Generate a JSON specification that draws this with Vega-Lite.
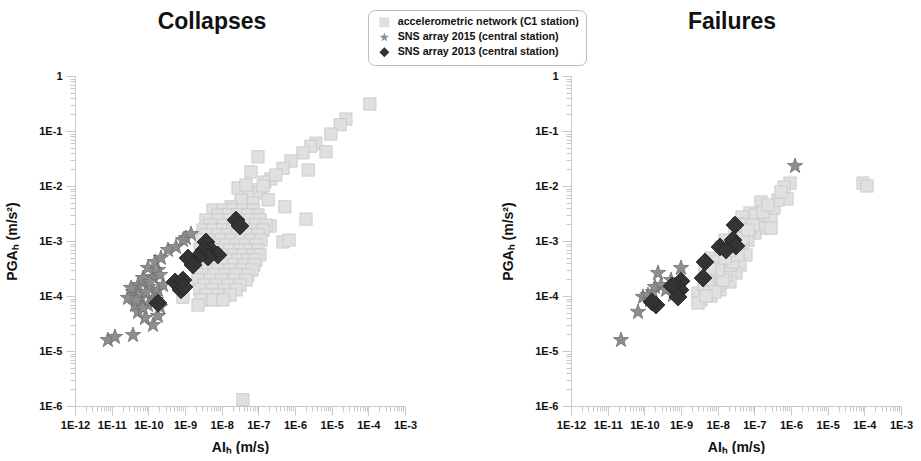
{
  "$schema": "https://vega.github.io/schema/vega-lite/v6.json",
  "padding": {"left": 5, "top": 9, "right": 0, "bottom": 0},
  "config": {
    "view": {"stroke": null},
    "font": "Liberation Sans",
    "axis": {"grid": false, "domainColor": "#c8c8c8", "tickColor": "#c8c8c8", "labelFont": "Liberation Sans", "labelFontWeight": "bold", "labelFontSize": 11, "labelColor": "#111111", "titleFont": "Liberation Sans", "titleFontWeight": "bold", "titleFontSize": 14, "titleColor": "#111111"},
    "title": {"font": "Liberation Sans", "fontSize": 23, "fontWeight": "bold", "color": "#111111"},
    "legend": {"orient": "none", "legendX": 293, "legendY": -66, "strokeColor": "#bbbbbb", "cornerRadius": 7, "padding": 7, "labelFont": "Liberation Sans", "labelFontSize": 10.7, "labelFontWeight": "bold", "labelColor": "#111111", "labelLimit": 400, "labelOffset": 8, "symbolOffset": 4, "symbolSize": 100, "rowPadding": 3, "symbolOpacity": 1, "symbolStrokeWidth": 0}
  },
  "spacing": 84,
  "datasets": {
    "pts": [
      {"panel":"Collapses","series":"acc","ai":1.1e-4,"pga":0.31},
      {"panel":"Collapses","series":"acc","ai":2.45e-5,"pga":0.165},
      {"panel":"Collapses","series":"acc","ai":1.7e-5,"pga":0.13},
      {"panel":"Collapses","series":"acc","ai":9.5e-6,"pga":0.088},
      {"panel":"Collapses","series":"acc","ai":3.7e-6,"pga":0.060},
      {"panel":"Collapses","series":"acc","ai":2.7e-6,"pga":0.053},
      {"panel":"Collapses","series":"acc","ai":7e-6,"pga":0.042},
      {"panel":"Collapses","series":"acc","ai":1.65e-6,"pga":0.040},
      {"panel":"Collapses","series":"acc","ai":7.8e-7,"pga":0.0285},
      {"panel":"Collapses","series":"acc","ai":4.7e-7,"pga":0.021},
      {"panel":"Collapses","series":"acc","ai":2.3e-6,"pga":0.0195},
      {"panel":"Collapses","series":"acc","ai":9.8e-8,"pga":0.034},
      {"panel":"Collapses","series":"acc","ai":6.3e-8,"pga":0.018},
      {"panel":"Collapses","series":"acc","ai":2.2e-7,"pga":0.0134},
      {"panel":"Collapses","series":"acc","ai":1.5e-7,"pga":0.0118},
      {"panel":"Collapses","series":"acc","ai":3.0e-7,"pga":0.0158},
      {"panel":"Collapses","series":"acc","ai":8.6e-8,"pga":0.0085},
      {"panel":"Collapses","series":"acc","ai":5.3e-7,"pga":0.0042},
      {"panel":"Collapses","series":"acc","ai":2.0e-6,"pga":0.0025},
      {"panel":"Collapses","series":"acc","ai":5.2e-8,"pga":0.0063},
      {"panel":"Collapses","series":"acc","ai":1.1e-7,"pga":0.0075},
      {"panel":"Collapses","series":"acc","ai":1.85e-7,"pga":0.0056},
      {"panel":"Collapses","series":"acc","ai":7.1e-8,"pga":0.0049},
      {"panel":"Collapses","series":"acc","ai":3.4e-8,"pga":0.0056},
      {"panel":"Collapses","series":"acc","ai":1.8e-8,"pga":0.0042},
      {"panel":"Collapses","series":"acc","ai":1.1e-8,"pga":0.0032},
      {"panel":"Collapses","series":"acc","ai":6.6e-9,"pga":0.0024},
      {"panel":"Collapses","series":"acc","ai":2.1e-7,"pga":0.00187},
      {"panel":"Collapses","series":"acc","ai":4.7e-7,"pga":0.00096},
      {"panel":"Collapses","series":"acc","ai":6.9e-7,"pga":0.00104},
      {"panel":"Collapses","series":"acc","ai":3.8e-8,"pga":1.3e-6},
      {"panel":"Collapses","series":"acc","ai":2.8e-8,"pga":0.0092},
      {"panel":"Collapses","series":"acc","ai":4.6e-8,"pga":0.0104},
      {"panel":"Collapses","series":"acc","ai":1.35e-7,"pga":0.010},
      {"panel":"Collapses","series":"acc","ai":5.8e-9,"pga":3.66e-3},
      {"panel":"Collapses","series":"acc","ai":1.09e-8,"pga":3.66e-3},
      {"panel":"Collapses","series":"acc","ai":2.04e-8,"pga":3.66e-3},
      {"panel":"Collapses","series":"acc","ai":3.81e-8,"pga":3.66e-3},
      {"panel":"Collapses","series":"acc","ai":7.15e-8,"pga":3.66e-3},
      {"panel":"Collapses","series":"acc","ai":7.9e-9,"pga":2.97e-3},
      {"panel":"Collapses","series":"acc","ai":1.49e-8,"pga":2.97e-3},
      {"panel":"Collapses","series":"acc","ai":2.79e-8,"pga":2.97e-3},
      {"panel":"Collapses","series":"acc","ai":5.22e-8,"pga":2.97e-3},
      {"panel":"Collapses","series":"acc","ai":9.8e-8,"pga":2.97e-3},
      {"panel":"Collapses","series":"acc","ai":3.73e-9,"pga":2.41e-3},
      {"panel":"Collapses","series":"acc","ai":7.9e-9,"pga":2.41e-3},
      {"panel":"Collapses","series":"acc","ai":1.69e-8,"pga":2.41e-3},
      {"panel":"Collapses","series":"acc","ai":3.16e-8,"pga":2.41e-3},
      {"panel":"Collapses","series":"acc","ai":5.92e-8,"pga":2.41e-3},
      {"panel":"Collapses","series":"acc","ai":1.11e-7,"pga":2.41e-3},
      {"panel":"Collapses","series":"acc","ai":4.81e-9,"pga":1.95e-3},
      {"panel":"Collapses","series":"acc","ai":1.16e-8,"pga":1.95e-3},
      {"panel":"Collapses","series":"acc","ai":2.46e-8,"pga":1.95e-3},
      {"panel":"Collapses","series":"acc","ai":4.6e-8,"pga":1.95e-3},
      {"panel":"Collapses","series":"acc","ai":8.6e-8,"pga":1.95e-3},
      {"panel":"Collapses","series":"acc","ai":1.62e-7,"pga":1.95e-3},
      {"panel":"Collapses","series":"acc","ai":3.09e-9,"pga":1.58e-3},
      {"panel":"Collapses","series":"acc","ai":5.8e-9,"pga":1.58e-3},
      {"panel":"Collapses","series":"acc","ai":1.09e-8,"pga":1.58e-3},
      {"panel":"Collapses","series":"acc","ai":2.04e-8,"pga":1.58e-3},
      {"panel":"Collapses","series":"acc","ai":3.81e-8,"pga":1.58e-3},
      {"panel":"Collapses","series":"acc","ai":7.15e-8,"pga":1.58e-3},
      {"panel":"Collapses","series":"acc","ai":1.34e-7,"pga":1.58e-3},
      {"panel":"Collapses","series":"acc","ai":3.73e-9,"pga":1.29e-3},
      {"panel":"Collapses","series":"acc","ai":7.9e-9,"pga":1.29e-3},
      {"panel":"Collapses","series":"acc","ai":1.49e-8,"pga":1.29e-3},
      {"panel":"Collapses","series":"acc","ai":2.79e-8,"pga":1.29e-3},
      {"panel":"Collapses","series":"acc","ai":5.22e-8,"pga":1.29e-3},
      {"panel":"Collapses","series":"acc","ai":9.8e-8,"pga":1.29e-3},
      {"panel":"Collapses","series":"acc","ai":2.73e-9,"pga":1.04e-3},
      {"panel":"Collapses","series":"acc","ai":5.12e-9,"pga":1.04e-3},
      {"panel":"Collapses","series":"acc","ai":9.6e-9,"pga":1.04e-3},
      {"panel":"Collapses","series":"acc","ai":1.8e-8,"pga":1.04e-3},
      {"panel":"Collapses","series":"acc","ai":3.37e-8,"pga":1.04e-3},
      {"panel":"Collapses","series":"acc","ai":6.3e-8,"pga":1.04e-3},
      {"panel":"Collapses","series":"acc","ai":1.18e-7,"pga":1.04e-3},
      {"panel":"Collapses","series":"acc","ai":3.51e-9,"pga":8.46e-4},
      {"panel":"Collapses","series":"acc","ai":7.0e-9,"pga":8.46e-4},
      {"panel":"Collapses","series":"acc","ai":1.31e-8,"pga":8.46e-4},
      {"panel":"Collapses","series":"acc","ai":2.46e-8,"pga":8.46e-4},
      {"panel":"Collapses","series":"acc","ai":4.6e-8,"pga":8.46e-4},
      {"panel":"Collapses","series":"acc","ai":8.6e-8,"pga":8.46e-4},
      {"panel":"Collapses","series":"acc","ai":2.56e-9,"pga":6.86e-4},
      {"panel":"Collapses","series":"acc","ai":4.81e-9,"pga":6.86e-4},
      {"panel":"Collapses","series":"acc","ai":9.0e-9,"pga":6.86e-4},
      {"panel":"Collapses","series":"acc","ai":1.69e-8,"pga":6.86e-4},
      {"panel":"Collapses","series":"acc","ai":3.16e-8,"pga":6.86e-4},
      {"panel":"Collapses","series":"acc","ai":5.92e-8,"pga":6.86e-4},
      {"panel":"Collapses","series":"acc","ai":9.8e-8,"pga":6.86e-4},
      {"panel":"Collapses","series":"acc","ai":3.09e-9,"pga":5.56e-4},
      {"panel":"Collapses","series":"acc","ai":5.8e-9,"pga":5.56e-4},
      {"panel":"Collapses","series":"acc","ai":1.09e-8,"pga":5.56e-4},
      {"panel":"Collapses","series":"acc","ai":2.04e-8,"pga":5.56e-4},
      {"panel":"Collapses","series":"acc","ai":3.81e-8,"pga":5.56e-4},
      {"panel":"Collapses","series":"acc","ai":7.15e-8,"pga":5.56e-4},
      {"panel":"Collapses","series":"acc","ai":1.11e-7,"pga":5.56e-4},
      {"panel":"Collapses","series":"acc","ai":2.26e-9,"pga":4.52e-4},
      {"panel":"Collapses","series":"acc","ai":4.24e-9,"pga":4.52e-4},
      {"panel":"Collapses","series":"acc","ai":7.9e-9,"pga":4.52e-4},
      {"panel":"Collapses","series":"acc","ai":1.49e-8,"pga":4.52e-4},
      {"panel":"Collapses","series":"acc","ai":2.79e-8,"pga":4.52e-4},
      {"panel":"Collapses","series":"acc","ai":5.22e-8,"pga":4.52e-4},
      {"panel":"Collapses","series":"acc","ai":8.6e-8,"pga":4.52e-4},
      {"panel":"Collapses","series":"acc","ai":3.09e-9,"pga":3.66e-4},
      {"panel":"Collapses","series":"acc","ai":5.8e-9,"pga":3.66e-4},
      {"panel":"Collapses","series":"acc","ai":1.09e-8,"pga":3.66e-4},
      {"panel":"Collapses","series":"acc","ai":2.17e-8,"pga":3.66e-4},
      {"panel":"Collapses","series":"acc","ai":4.06e-8,"pga":3.66e-4},
      {"panel":"Collapses","series":"acc","ai":7.6e-8,"pga":3.66e-4},
      {"panel":"Collapses","series":"acc","ai":2.26e-9,"pga":2.97e-4},
      {"panel":"Collapses","series":"acc","ai":4.24e-9,"pga":2.97e-4},
      {"panel":"Collapses","series":"acc","ai":7.9e-9,"pga":2.97e-4},
      {"panel":"Collapses","series":"acc","ai":1.69e-8,"pga":2.97e-4},
      {"panel":"Collapses","series":"acc","ai":3.58e-8,"pga":2.97e-4},
      {"panel":"Collapses","series":"acc","ai":6.7e-8,"pga":2.97e-4},
      {"panel":"Collapses","series":"acc","ai":3.09e-9,"pga":2.41e-4},
      {"panel":"Collapses","series":"acc","ai":6.18e-9,"pga":2.41e-4},
      {"panel":"Collapses","series":"acc","ai":1.23e-8,"pga":2.41e-4},
      {"panel":"Collapses","series":"acc","ai":2.46e-8,"pga":2.41e-4},
      {"panel":"Collapses","series":"acc","ai":5.22e-8,"pga":2.41e-4},
      {"panel":"Collapses","series":"acc","ai":2.26e-9,"pga":1.95e-4},
      {"panel":"Collapses","series":"acc","ai":4.81e-9,"pga":1.95e-4},
      {"panel":"Collapses","series":"acc","ai":1.02e-8,"pga":1.95e-4},
      {"panel":"Collapses","series":"acc","ai":2.17e-8,"pga":1.95e-4},
      {"panel":"Collapses","series":"acc","ai":4.6e-8,"pga":1.95e-4},
      {"panel":"Collapses","series":"acc","ai":3.3e-9,"pga":1.58e-4},
      {"panel":"Collapses","series":"acc","ai":7.0e-9,"pga":1.58e-4},
      {"panel":"Collapses","series":"acc","ai":1.49e-8,"pga":1.58e-4},
      {"panel":"Collapses","series":"acc","ai":3.16e-8,"pga":1.58e-4},
      {"panel":"Collapses","series":"acc","ai":2.56e-9,"pga":1.29e-4},
      {"panel":"Collapses","series":"acc","ai":5.45e-9,"pga":1.29e-4},
      {"panel":"Collapses","series":"acc","ai":1.16e-8,"pga":1.29e-4},
      {"panel":"Collapses","series":"acc","ai":2.46e-8,"pga":1.29e-4},
      {"panel":"Collapses","series":"acc","ai":3.73e-9,"pga":1.04e-4},
      {"panel":"Collapses","series":"acc","ai":7.9e-9,"pga":1.04e-4},
      {"panel":"Collapses","series":"acc","ai":1.69e-8,"pga":1.04e-4},
      {"panel":"Collapses","series":"acc","ai":2.73e-9,"pga":8.46e-5},
      {"panel":"Collapses","series":"acc","ai":5.8e-9,"pga":8.46e-5},
      {"panel":"Collapses","series":"acc","ai":1.09e-8,"pga":8.46e-5},
      {"panel":"Collapses","series":"acc","ai":2.26e-9,"pga":6.86e-5},
      {"panel":"Collapses","series":"acc","ai":8.8e-10,"pga":9.5e-5},
      {"panel":"Collapses","series":"sns2015","ai":7.9e-12,"pga":1.58e-5},
      {"panel":"Collapses","series":"sns2015","ai":1.23e-11,"pga":1.8e-5},
      {"panel":"Collapses","series":"sns2015","ai":3.82e-11,"pga":1.95e-5},
      {"panel":"Collapses","series":"sns2015","ai":1.34e-10,"pga":2.97e-5},
      {"panel":"Collapses","series":"sns2015","ai":1.83e-10,"pga":4.33e-5},
      {"panel":"Collapses","series":"sns2015","ai":8.1e-11,"pga":3.98e-5},
      {"panel":"Collapses","series":"sns2015","ai":5.22e-11,"pga":5.12e-5},
      {"panel":"Collapses","series":"sns2015","ai":2.08e-10,"pga":6.3e-5},
      {"panel":"Collapses","series":"sns2015","ai":9.8e-11,"pga":6.86e-5},
      {"panel":"Collapses","series":"sns2015","ai":4.33e-11,"pga":6.86e-5},
      {"panel":"Collapses","series":"sns2015","ai":6.3e-11,"pga":9.2e-5},
      {"panel":"Collapses","series":"sns2015","ai":1.34e-10,"pga":9.2e-5},
      {"panel":"Collapses","series":"sns2015","ai":1.83e-10,"pga":1.29e-4},
      {"panel":"Collapses","series":"sns2015","ai":3.82e-11,"pga":1.18e-4},
      {"panel":"Collapses","series":"sns2015","ai":5.22e-11,"pga":1.58e-4},
      {"panel":"Collapses","series":"sns2015","ai":9.8e-11,"pga":1.46e-4},
      {"panel":"Collapses","series":"sns2015","ai":7.15e-11,"pga":2.12e-4},
      {"panel":"Collapses","series":"sns2015","ai":1.34e-10,"pga":2.21e-4},
      {"panel":"Collapses","series":"sns2015","ai":1.83e-10,"pga":2.97e-4},
      {"panel":"Collapses","series":"sns2015","ai":9.8e-11,"pga":3.23e-4},
      {"panel":"Collapses","series":"sns2015","ai":1.52e-10,"pga":4.15e-4},
      {"panel":"Collapses","series":"sns2015","ai":2.21e-10,"pga":4.91e-4},
      {"panel":"Collapses","series":"sns2015","ai":5.22e-11,"pga":1.04e-4},
      {"panel":"Collapses","series":"sns2015","ai":8.6e-11,"pga":1.18e-4},
      {"panel":"Collapses","series":"sns2015","ai":1.11e-10,"pga":1.8e-4},
      {"panel":"Collapses","series":"sns2015","ai":2.51e-10,"pga":1.58e-4},
      {"panel":"Collapses","series":"sns2015","ai":1.62e-10,"pga":8.46e-5},
      {"panel":"Collapses","series":"sns2015","ai":3.44e-10,"pga":6.86e-4},
      {"panel":"Collapses","series":"sns2015","ai":5.68e-10,"pga":7.78e-4},
      {"panel":"Collapses","series":"sns2015","ai":1.06e-9,"pga":1.13e-3},
      {"panel":"Collapses","series":"sns2015","ai":1.46e-9,"pga":1.34e-3},
      {"panel":"Collapses","series":"sns2015","ai":8.8e-10,"pga":1.04e-3},
      {"panel":"Collapses","series":"sns2015","ai":2.08e-10,"pga":2.41e-4},
      {"panel":"Collapses","series":"sns2015","ai":4.6e-11,"pga":8.46e-5},
      {"panel":"Collapses","series":"sns2015","ai":7.15e-11,"pga":6.05e-5},
      {"panel":"Collapses","series":"sns2015","ai":2.79e-11,"pga":9.2e-5},
      {"panel":"Collapses","series":"sns2015","ai":3.37e-11,"pga":1.4e-4},
      {"panel":"Collapses","series":"sns2013","ai":2.46e-8,"pga":2.41e-3},
      {"panel":"Collapses","series":"sns2013","ai":3.16e-8,"pga":1.87e-3},
      {"panel":"Collapses","series":"sns2013","ai":3.73e-9,"pga":9.6e-4},
      {"panel":"Collapses","series":"sns2013","ai":5.12e-9,"pga":6.86e-4},
      {"panel":"Collapses","series":"sns2013","ai":3.3e-9,"pga":6.86e-4},
      {"panel":"Collapses","series":"sns2013","ai":7.9e-9,"pga":5.56e-4},
      {"panel":"Collapses","series":"sns2013","ai":4.24e-9,"pga":5.12e-4},
      {"panel":"Collapses","series":"sns2013","ai":2.26e-9,"pga":5.12e-4},
      {"panel":"Collapses","series":"sns2013","ai":1.21e-9,"pga":4.91e-4},
      {"panel":"Collapses","series":"sns2013","ai":1.65e-9,"pga":3.66e-4},
      {"panel":"Collapses","series":"sns2013","ai":5.33e-10,"pga":1.8e-4},
      {"panel":"Collapses","series":"sns2013","ai":8.8e-10,"pga":1.95e-4},
      {"panel":"Collapses","series":"sns2013","ai":7.8e-10,"pga":1.29e-4},
      {"panel":"Collapses","series":"sns2013","ai":9.4e-10,"pga":1.46e-4},
      {"panel":"Collapses","series":"sns2013","ai":1.83e-10,"pga":7.46e-5},
      {"panel":"Failures","series":"acc","ai":9.18e-5,"pga":1.13e-2},
      {"panel":"Failures","series":"acc","ai":1.18e-4,"pga":1.0e-2},
      {"panel":"Failures","series":"acc","ai":9.38e-7,"pga":1.13e-2},
      {"panel":"Failures","series":"acc","ai":6.44e-7,"pga":9.6e-3},
      {"panel":"Failures","series":"acc","ai":7.78e-7,"pga":5.8e-3},
      {"panel":"Failures","series":"acc","ai":3.44e-7,"pga":3.98e-3},
      {"panel":"Failures","series":"acc","ai":1.52e-7,"pga":5.12e-3},
      {"panel":"Failures","series":"acc","ai":7.6e-8,"pga":3.23e-3},
      {"panel":"Failures","series":"acc","ai":2.85e-7,"pga":2.41e-3},
      {"panel":"Failures","series":"acc","ai":4.6e-8,"pga":2.73e-3},
      {"panel":"Failures","series":"acc","ai":3.58e-8,"pga":2.04e-3},
      {"panel":"Failures","series":"acc","ai":1.26e-7,"pga":2.12e-3},
      {"panel":"Failures","series":"acc","ai":1.95e-7,"pga":1.72e-3},
      {"panel":"Failures","series":"acc","ai":2.85e-7,"pga":1.72e-3},
      {"panel":"Failures","series":"acc","ai":1.04e-7,"pga":1.4e-3},
      {"panel":"Failures","series":"acc","ai":6.71e-8,"pga":1.04e-3},
      {"panel":"Failures","series":"acc","ai":4.9e-8,"pga":7.46e-4},
      {"panel":"Failures","series":"acc","ai":5.92e-8,"pga":5.56e-4},
      {"panel":"Failures","series":"acc","ai":4.06e-8,"pga":3.66e-4},
      {"panel":"Failures","series":"acc","ai":3.16e-8,"pga":2.62e-4},
      {"panel":"Failures","series":"acc","ai":2.17e-8,"pga":1.8e-4},
      {"panel":"Failures","series":"acc","ai":1.16e-8,"pga":1.29e-4},
      {"panel":"Failures","series":"acc","ai":6.58e-9,"pga":1.0e-4},
      {"panel":"Failures","series":"acc","ai":3.51e-9,"pga":8.46e-5},
      {"panel":"Failures","series":"acc","ai":2.9e-9,"pga":1.13e-4},
      {"panel":"Failures","series":"acc","ai":4.24e-9,"pga":1.65e-4},
      {"panel":"Failures","series":"acc","ai":4.51e-9,"pga":2.97e-4},
      {"panel":"Failures","series":"acc","ai":6.58e-9,"pga":4.91e-4},
      {"panel":"Failures","series":"acc","ai":1.23e-8,"pga":7.78e-4},
      {"panel":"Failures","series":"acc","ai":1.58e-8,"pga":1.04e-3},
      {"panel":"Failures","series":"acc","ai":2.97e-8,"pga":1.4e-3},
      {"panel":"Failures","series":"acc","ai":5.56e-8,"pga":1.95e-3},
      {"panel":"Failures","series":"acc","ai":2.9e-9,"pga":7.46e-5},
      {"panel":"Failures","series":"acc","ai":7.94e-9,"pga":2.41e-4},
      {"panel":"Failures","series":"acc","ai":1.4e-8,"pga":3.23e-4},
      {"panel":"Failures","series":"acc","ai":1.91e-8,"pga":4.91e-4},
      {"panel":"Failures","series":"acc","ai":2.62e-8,"pga":6.86e-4},
      {"panel":"Failures","series":"acc","ai":4.06e-8,"pga":9.6e-4},
      {"panel":"Failures","series":"acc","ai":1.02e-8,"pga":1.58e-4},
      {"panel":"Failures","series":"acc","ai":6.18e-9,"pga":1.4e-4},
      {"panel":"Failures","series":"acc","ai":1.69e-8,"pga":2.41e-4},
      {"panel":"Failures","series":"acc","ai":9.0e-9,"pga":4.15e-4},
      {"panel":"Failures","series":"acc","ai":2.31e-8,"pga":3.66e-4},
      {"panel":"Failures","series":"acc","ai":7.6e-8,"pga":1.72e-3},
      {"panel":"Failures","series":"acc","ai":1.11e-7,"pga":2.97e-3},
      {"panel":"Failures","series":"acc","ai":4.42e-7,"pga":5.56e-3},
      {"panel":"Failures","series":"acc","ai":5.33e-7,"pga":7.78e-3},
      {"panel":"Failures","series":"acc","ai":5.45e-9,"pga":1.95e-4},
      {"panel":"Failures","series":"acc","ai":8.46e-9,"pga":1.18e-4},
      {"panel":"Failures","series":"acc","ai":4.81e-9,"pga":1.0e-4},
      {"panel":"Failures","series":"acc","ai":1.4e-8,"pga":1.95e-4},
      {"panel":"Failures","series":"acc","ai":2.62e-8,"pga":4.15e-4},
      {"panel":"Failures","series":"acc","ai":3.58e-8,"pga":5.56e-4},
      {"panel":"Failures","series":"acc","ai":4.9e-8,"pga":1.13e-3},
      {"panel":"Failures","series":"acc","ai":9.2e-8,"pga":1.95e-3},
      {"panel":"Failures","series":"acc","ai":1.72e-7,"pga":3.36e-3},
      {"panel":"Failures","series":"acc","ai":2.36e-7,"pga":4.52e-3},
      {"panel":"Failures","series":"acc","ai":1.02e-8,"pga":2.97e-4},
      {"panel":"Failures","series":"acc","ai":1.58e-8,"pga":4.91e-4},
      {"panel":"Failures","series":"acc","ai":2.17e-8,"pga":6.86e-4},
      {"panel":"Failures","series":"acc","ai":6.71e-8,"pga":1.58e-3},
      {"panel":"Failures","series":"acc","ai":6.18e-9,"pga":3.23e-4},
      {"panel":"Failures","series":"sns2015","ai":1.29e-6,"pga":2.31e-2},
      {"panel":"Failures","series":"sns2015","ai":2.31e-11,"pga":1.58e-5},
      {"panel":"Failures","series":"sns2015","ai":6.72e-11,"pga":5.12e-5},
      {"panel":"Failures","series":"sns2015","ai":9.2e-11,"pga":9.6e-5},
      {"panel":"Failures","series":"sns2015","ai":1.26e-10,"pga":1.04e-4},
      {"panel":"Failures","series":"sns2015","ai":1.72e-10,"pga":1.18e-4},
      {"panel":"Failures","series":"sns2015","ai":2.36e-10,"pga":2.62e-4},
      {"panel":"Failures","series":"sns2015","ai":1.95e-10,"pga":1.46e-4},
      {"panel":"Failures","series":"sns2015","ai":5.33e-10,"pga":1.95e-4},
      {"panel":"Failures","series":"sns2015","ai":1.0e-9,"pga":3.23e-4},
      {"panel":"Failures","series":"sns2015","ai":6.05e-10,"pga":1.04e-4},
      {"panel":"Failures","series":"sns2015","ai":2.85e-10,"pga":1.58e-4},
      {"panel":"Failures","series":"sns2015","ai":3.9e-10,"pga":1.29e-4},
      {"panel":"Failures","series":"sns2015","ai":1.43e-10,"pga":8.46e-5},
      {"panel":"Failures","series":"sns2013","ai":2.97e-8,"pga":1.95e-3},
      {"panel":"Failures","series":"sns2013","ai":2.62e-8,"pga":1.04e-3},
      {"panel":"Failures","series":"sns2013","ai":3.16e-8,"pga":8.1e-4},
      {"panel":"Failures","series":"sns2013","ai":1.16e-8,"pga":7.78e-4},
      {"panel":"Failures","series":"sns2013","ai":1.69e-8,"pga":6.86e-4},
      {"panel":"Failures","series":"sns2013","ai":4.51e-9,"pga":4.15e-4},
      {"panel":"Failures","series":"sns2013","ai":4.0e-9,"pga":2.12e-4},
      {"panel":"Failures","series":"sns2013","ai":1.0e-9,"pga":1.87e-4},
      {"panel":"Failures","series":"sns2013","ai":9.4e-10,"pga":1.29e-4},
      {"panel":"Failures","series":"sns2013","ai":8.3e-10,"pga":9.6e-5},
      {"panel":"Failures","series":"sns2013","ai":2.08e-10,"pga":6.86e-5},
      {"panel":"Failures","series":"sns2013","ai":1.62e-10,"pga":7.78e-5},
      {"panel":"Failures","series":"sns2013","ai":5.68e-10,"pga":1.52e-4}
    ]
  },
  "hconcat": [
    {
      "title": {"text": "Collapses", "offset": 36, "dx": -28, "anchor": "middle", "frame": "group"},
      "width": 330,
      "height": 330,
      "data": {"name": "pts"},
      "transform": [{"filter": "datum.panel == 'Collapses'"}],
      "encoding": {
        "x": {"field": "ai", "type": "quantitative", "scale": {"type": "log", "domain": [1e-12, 1e-3], "nice": false},
          "axis": {"title": "AIₕ (m/s)", "values": [1e-12,2e-12,3e-12,4e-12,5e-12,6e-12,7e-12,8e-12,9e-12,1e-11,2e-11,3e-11,4e-11,5e-11,6e-11,7e-11,8e-11,9e-11,1e-10,2e-10,3e-10,4e-10,5e-10,6e-10,7e-10,8e-10,9e-10,1e-9,2e-9,3e-9,4e-9,5e-9,6e-9,7e-9,8e-9,9e-9,1e-8,2e-8,3e-8,4e-8,5e-8,6e-8,7e-8,8e-8,9e-8,1e-7,2e-7,3e-7,4e-7,5e-7,6e-7,7e-7,8e-7,9e-7,1e-6,2e-6,3e-6,4e-6,5e-6,6e-6,7e-6,8e-6,9e-6,1e-5,2e-5,3e-5,4e-5,5e-5,6e-5,7e-5,8e-5,9e-5,1e-4,2e-4,3e-4,4e-4,5e-4,6e-4,7e-4,8e-4,9e-4,1e-3], "labelOverlap": false, "labelFlush": false, "labelPadding": 4, "titlePadding": 10,
            "tickSize": {"condition": {"test": "abs(log(datum.value)/LN10 - round(log(datum.value)/LN10)) < 0.01", "value": 9}, "value": 5},
            "labelExpr": "abs(log(datum.value)/LN10 - round(log(datum.value)/LN10)) < 0.01 ? (round(log(datum.value)/LN10) == 0 ? '1' : '1E' + round(log(datum.value)/LN10)) : ''"}},
        "y": {"field": "pga", "type": "quantitative", "scale": {"type": "log", "domain": [1e-6, 1], "nice": false},
          "axis": {"title": "PGAₕ (m/s²)", "values": [1e-6,2e-6,3e-6,4e-6,5e-6,6e-6,7e-6,8e-6,9e-6,1e-5,2e-5,3e-5,4e-5,5e-5,6e-5,7e-5,8e-5,9e-5,1e-4,2e-4,3e-4,4e-4,5e-4,6e-4,7e-4,8e-4,9e-4,1e-3,2e-3,3e-3,4e-3,5e-3,6e-3,7e-3,8e-3,9e-3,1e-2,2e-2,3e-2,4e-2,5e-2,6e-2,7e-2,8e-2,9e-2,0.1,0.2,0.3,0.4,0.5,0.6,0.7,0.8,0.9,1], "labelOverlap": false, "labelFlush": false, "labelPadding": 4, "titlePadding": 19,
            "tickSize": {"condition": {"test": "abs(log(datum.value)/LN10 - round(log(datum.value)/LN10)) < 0.01", "value": 9}, "value": 5},
            "labelExpr": "abs(log(datum.value)/LN10 - round(log(datum.value)/LN10)) < 0.01 ? (round(log(datum.value)/LN10) == 0 ? '1' : '1E' + round(log(datum.value)/LN10)) : ''"}},
        "color": {"field": "series", "type": "nominal", "scale": {"domain": ["acc", "sns2015", "sns2013"], "range": ["#e0e0e0", "#8e8e8e", "#333333"]},
          "legend": {"title": null, "symbolSize": 100, "labelExpr": "datum.value == 'acc' ? 'accelerometric network (C1 station)' : datum.value == 'sns2015' ? 'SNS array 2015 (central station)' : 'SNS array 2013 (central station)'"}},
        "shape": {"field": "series", "type": "nominal", "scale": {"domain": ["acc", "sns2015", "sns2013"], "range": ["square", "M0,-1L0.235,-0.324L0.951,-0.309L0.38,0.124L0.588,0.809L0,0.4L-0.588,0.809L-0.38,0.124L-0.951,-0.309L-0.235,-0.324Z", "diamond"]},
          "legend": {"title": null, "symbolSize": 100, "labelExpr": "datum.value == 'acc' ? 'accelerometric network (C1 station)' : datum.value == 'sns2015' ? 'SNS array 2015 (central station)' : 'SNS array 2013 (central station)'"}}
      },
      "layer": [
        {"transform": [{"filter": "datum.series == 'acc'"}], "mark": {"type": "point", "filled": true, "opacity": 1, "size": 150, "stroke": "#c6c6c6", "strokeWidth": 0.8}},
        {"transform": [{"filter": "datum.series == 'sns2015'"}], "mark": {"type": "point", "filled": true, "opacity": 1, "size": 260, "stroke": "#6f6f6f", "strokeWidth": 0.8}},
        {"transform": [{"filter": "datum.series == 'sns2013'"}], "mark": {"type": "point", "filled": true, "opacity": 1, "size": 320, "stroke": "#222222", "strokeWidth": 0.8}}
      ]
    },
    {
      "title": {"text": "Failures", "offset": 36, "dx": -4, "anchor": "middle", "frame": "group"},
      "width": 330,
      "height": 330,
      "data": {"name": "pts"},
      "transform": [{"filter": "datum.panel == 'Failures'"}],
      "encoding": {
        "x": {"field": "ai", "type": "quantitative", "scale": {"type": "log", "domain": [1e-12, 1e-3], "nice": false},
          "axis": {"title": "AIₕ (m/s)", "values": [1e-12,2e-12,3e-12,4e-12,5e-12,6e-12,7e-12,8e-12,9e-12,1e-11,2e-11,3e-11,4e-11,5e-11,6e-11,7e-11,8e-11,9e-11,1e-10,2e-10,3e-10,4e-10,5e-10,6e-10,7e-10,8e-10,9e-10,1e-9,2e-9,3e-9,4e-9,5e-9,6e-9,7e-9,8e-9,9e-9,1e-8,2e-8,3e-8,4e-8,5e-8,6e-8,7e-8,8e-8,9e-8,1e-7,2e-7,3e-7,4e-7,5e-7,6e-7,7e-7,8e-7,9e-7,1e-6,2e-6,3e-6,4e-6,5e-6,6e-6,7e-6,8e-6,9e-6,1e-5,2e-5,3e-5,4e-5,5e-5,6e-5,7e-5,8e-5,9e-5,1e-4,2e-4,3e-4,4e-4,5e-4,6e-4,7e-4,8e-4,9e-4,1e-3], "labelOverlap": false, "labelFlush": false, "labelPadding": 4, "titlePadding": 10,
            "tickSize": {"condition": {"test": "abs(log(datum.value)/LN10 - round(log(datum.value)/LN10)) < 0.01", "value": 9}, "value": 5},
            "labelExpr": "abs(log(datum.value)/LN10 - round(log(datum.value)/LN10)) < 0.01 ? (round(log(datum.value)/LN10) == 0 ? '1' : '1E' + round(log(datum.value)/LN10)) : ''"}},
        "y": {"field": "pga", "type": "quantitative", "scale": {"type": "log", "domain": [1e-6, 1], "nice": false},
          "axis": {"title": "PGAₕ (m/s²)", "values": [1e-6,2e-6,3e-6,4e-6,5e-6,6e-6,7e-6,8e-6,9e-6,1e-5,2e-5,3e-5,4e-5,5e-5,6e-5,7e-5,8e-5,9e-5,1e-4,2e-4,3e-4,4e-4,5e-4,6e-4,7e-4,8e-4,9e-4,1e-3,2e-3,3e-3,4e-3,5e-3,6e-3,7e-3,8e-3,9e-3,1e-2,2e-2,3e-2,4e-2,5e-2,6e-2,7e-2,8e-2,9e-2,0.1,0.2,0.3,0.4,0.5,0.6,0.7,0.8,0.9,1], "labelOverlap": false, "labelFlush": false, "labelPadding": 4, "titlePadding": 19,
            "tickSize": {"condition": {"test": "abs(log(datum.value)/LN10 - round(log(datum.value)/LN10)) < 0.01", "value": 9}, "value": 5},
            "labelExpr": "abs(log(datum.value)/LN10 - round(log(datum.value)/LN10)) < 0.01 ? (round(log(datum.value)/LN10) == 0 ? '1' : '1E' + round(log(datum.value)/LN10)) : ''"}},
        "color": {"field": "series", "type": "nominal", "scale": {"domain": ["acc", "sns2015", "sns2013"], "range": ["#e0e0e0", "#8e8e8e", "#333333"]},
          "legend": {"title": null, "symbolSize": 100, "labelExpr": "datum.value == 'acc' ? 'accelerometric network (C1 station)' : datum.value == 'sns2015' ? 'SNS array 2015 (central station)' : 'SNS array 2013 (central station)'"}},
        "shape": {"field": "series", "type": "nominal", "scale": {"domain": ["acc", "sns2015", "sns2013"], "range": ["square", "M0,-1L0.235,-0.324L0.951,-0.309L0.38,0.124L0.588,0.809L0,0.4L-0.588,0.809L-0.38,0.124L-0.951,-0.309L-0.235,-0.324Z", "diamond"]},
          "legend": {"title": null, "symbolSize": 100, "labelExpr": "datum.value == 'acc' ? 'accelerometric network (C1 station)' : datum.value == 'sns2015' ? 'SNS array 2015 (central station)' : 'SNS array 2013 (central station)'"}}
      },
      "layer": [
        {"transform": [{"filter": "datum.series == 'acc'"}], "mark": {"type": "point", "filled": true, "opacity": 1, "size": 150, "stroke": "#c6c6c6", "strokeWidth": 0.8}},
        {"transform": [{"filter": "datum.series == 'sns2015'"}], "mark": {"type": "point", "filled": true, "opacity": 1, "size": 260, "stroke": "#6f6f6f", "strokeWidth": 0.8}},
        {"transform": [{"filter": "datum.series == 'sns2013'"}], "mark": {"type": "point", "filled": true, "opacity": 1, "size": 320, "stroke": "#222222", "strokeWidth": 0.8}}
      ]
    }
  ]
}
